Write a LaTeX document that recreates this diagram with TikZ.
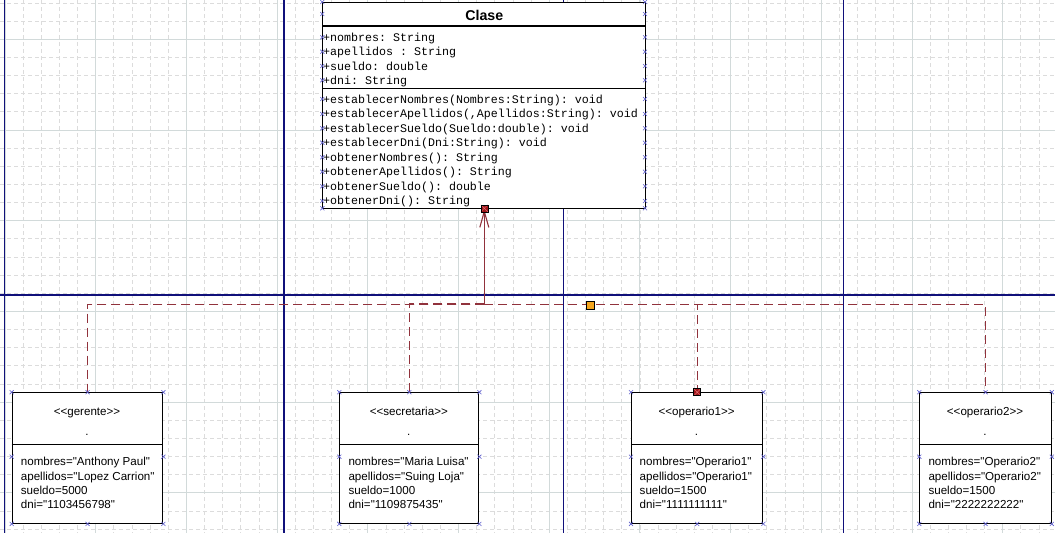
\documentclass[tikz,border=0pt]{standalone}
\usepackage{fontspec}
\newfontfamily\sansf{Liberation Sans}
\newfontfamily\monof{Liberation Mono}
\usetikzlibrary{arrows.meta}
\definecolor{gridminor}{RGB}{220,220,220}
\definecolor{gridmajor}{RGB}{210,218,218}
\definecolor{navyc}{RGB}{16,16,122}
\definecolor{deprel}{RGB}{145,50,60}
\definecolor{handlec}{RGB}{95,95,205}
\definecolor{anchred}{RGB}{160,20,25}
\definecolor{anchx}{RGB}{225,110,110}
\definecolor{anchorange}{RGB}{245,165,30}
\tikzset{
  minorline/.style={gridminor, dash pattern=on 4pt off 3pt, line width=0.8pt},
  majorline/.style={gridmajor, line width=1pt},
  navyline/.style={navyc, line width=1.3pt},
  umlbox/.style={draw=black, fill=white, line width=1.1pt, rectangle, inner sep=0pt, anchor=north west},
  sepline/.style={black, line width=1.1pt},
  monotext/.style={font=\monof\frenchspacing\fontsize{11.65}{14}\selectfont, anchor=base west, inner sep=0pt},
  sanstext/.style={font=\sansf\frenchspacing\fontsize{11.6}{14}\selectfont, anchor=base west, inner sep=0pt},
  stereotext/.style={font=\sansf\fontsize{11.6}{14}\selectfont, anchor=base, inner sep=0pt},
  titletext/.style={font=\sansf\bfseries\fontsize{14.2}{16}\selectfont, inner sep=0pt},
  depline/.style={deprel, line width=1.1pt, dash pattern=on 9pt off 5pt},
  realline/.style={deprel, line width=1.1pt},
  anchsq/.style={draw=black, fill=anchred, minimum size=7pt, inner sep=0pt, line width=0.6pt,
    path picture={\draw[anchx, line width=0.5pt]
      (path picture bounding box.north west) -- (path picture bounding box.south east)
      (path picture bounding box.north east) -- (path picture bounding box.south west);}},
  waysq/.style={draw=black, fill=anchorange, minimum size=8pt, inner sep=0pt, line width=0.6pt},
  hx/.pic={\draw[handlec, line width=0.6pt] (-2,-2) -- (2,2) (-2,2) -- (2,-2);}
}
\begin{document}
\begin{tikzpicture}[x=1pt,y=-1pt]
\useasboundingbox (0,0) rectangle (1055,533);
\fill[white] (0,0) rectangle (1055,533);
% grid
\foreach \i in {1,...,59} {\draw[minorline] ({-13.14+18.14*\i},0) -- ({-13.14+18.14*\i},533);}
\foreach \i in {0,...,29} {\draw[minorline] (0,{3.02+18.14*\i}) -- (1055,{3.02+18.14*\i});}
\foreach \i in {0,...,11} {\draw[majorline] ({5+90.7*\i},0) -- ({5+90.7*\i},533);}
\foreach \i in {0,...,5} {\draw[majorline] (0,{39.3+90.7*\i}) -- (1055,{39.3+90.7*\i});}
% page lines
\foreach \xx in {4.3,284,563.3,843.5} {\draw[navyline] (\xx,0) -- (\xx,533);}
\draw[navyline] (0,295) -- (1055,295);

% class box
\node[umlbox, minimum width=322.7pt, minimum height=206.3pt] (clase) at (322.3,2) {};
\draw[sepline] (322.3,26) -- (645,26);
\draw[sepline] (322.3,88.3) -- (645,88.3);
\node[titletext] (clase-title) at (484.3,15) {Clase};
\node[monotext] (at1) at (323,41.5) {+nombres: String};
\node[monotext] (at2) at (323,55.9) {+apellidos : String};
\node[monotext] (at3) at (323,70.3) {+sueldo: double};
\node[monotext] (at4) at (323,84.7) {+dni: String};
\node[monotext] (m1) at (323,103.3) {+establecerNombres(Nombres:String): void};
\node[monotext] (m2) at (323,117.8) {+establecerApellidos(,Apellidos:String): void};
\node[monotext] (m3) at (323,132.3) {+establecerSueldo(Sueldo:double): void};
\node[monotext] (m4) at (323,146.8) {+establecerDni(Dni:String): void};
\node[monotext] (m5) at (323,161.3) {+obtenerNombres(): String};
\node[monotext] (m6) at (323,175.8) {+obtenerApellidos(): String};
\node[monotext] (m7) at (323,190.3) {+obtenerSueldo(): double};
\node[monotext] (m8) at (323,204.8) {+obtenerDni(): String};

% object boxes
\node[umlbox, minimum width=150.6pt, minimum height=130.6pt] (ger) at (11.7,392.2) {};
\draw[sepline] (11.7,444.3) -- (162.3,444.3);
\node[stereotext] (ger-st) at (87,415.7) {<{}<gerente>{}>};
\node[stereotext] (ger-dot) at (87,435.5) {.};
\node[sanstext] (ger-a1) at (20.7,465.7) {nombres="Anthony Paul"};
\node[sanstext] (ger-a2) at (20.7,480.1) {apellidos="Lopez Carrion"};
\node[sanstext] (ger-a3) at (20.7,494.5) {sueldo=5000};
\node[sanstext] (ger-a4) at (20.7,508.9) {dni="1103456798"};

\node[umlbox, minimum width=139pt, minimum height=130.6pt] (sec) at (339.3,392.2) {};
\draw[sepline] (339.3,444.3) -- (478.3,444.3);
\node[stereotext] (sec-st) at (408.8,415.7) {<{}<secretaria>{}>};
\node[stereotext] (sec-dot) at (408.8,435.5) {.};
\node[sanstext] (sec-a1) at (348.3,465.7) {nombres="Maria Luisa"};
\node[sanstext] (sec-a2) at (348.3,480.1) {apellidos="Suing Loja"};
\node[sanstext] (sec-a3) at (348.3,494.5) {sueldo=1000};
\node[sanstext] (sec-a4) at (348.3,508.9) {dni="1109875435"};

\node[umlbox, minimum width=131.3pt, minimum height=130.6pt] (op1) at (631,392.2) {};
\draw[sepline] (631,444.3) -- (762.3,444.3);
\node[stereotext] (op1-st) at (696.6,415.7) {<{}<operario1>{}>};
\node[stereotext] (op1-dot) at (696.6,435.5) {.};
\node[sanstext] (op1-a1) at (639.5,465.7) {nombres="Operario1"};
\node[sanstext] (op1-a2) at (639.5,480.1) {apellidos="Operario1"};
\node[sanstext] (op1-a3) at (639.5,494.5) {sueldo=1500};
\node[sanstext] (op1-a4) at (639.5,508.9) {dni="1111111111"};

\node[umlbox, minimum width=131.4pt, minimum height=130.6pt] (op2) at (919.3,392.2) {};
\draw[sepline] (919.3,444.3) -- (1050.7,444.3);
\node[stereotext] (op2-st) at (985,415.7) {<{}<operario2>{}>};
\node[stereotext] (op2-dot) at (985,435.5) {.};
\node[sanstext] (op2-a1) at (928.3,465.7) {nombres="Operario2"};
\node[sanstext] (op2-a2) at (928.3,480.1) {apellidos="Operario2"};
\node[sanstext] (op2-a3) at (928.3,494.5) {sueldo=1500};
\node[sanstext] (op2-a4) at (928.3,508.9) {dni="2222222222"};

% connectors (drawn outward from the junction so overlapping dashes stay in phase)
\coordinate (hub) at (484.3,304.3);
\draw[depline] (hub) -| (ger.north);
\draw[depline] (hub) -| (sec.north);
\draw[depline, line width=2pt] (hub) -- (sec.north |- hub);
\draw[depline] (hub) -| (op1.north);
\draw[depline] (hub) -| (op2.north);
\draw[realline, -{Straight Barb[length=16pt,width=9pt]}] (hub) -- (hub |- clase.south);
\node[waysq] (bend) at (590.3,305) {};

% selection handles
\foreach \yy in {2,14,37.3,51.7,66,80.3,99,114,128.3,142.7,157.3,171.7,186.3,201,208.3}
  {\pic at (322.3,\yy) {hx}; \pic at (645,\yy) {hx};}
\foreach \b in {ger,sec,op1,op2} {
  \foreach \a in {north west,north,north east,south west,south,south east} {\pic at (\b.\a) {hx};}
  \pic at (\b.west |- 0,456.7) {hx};
  \pic at (\b.east |- 0,456.7) {hx};
}
\node[anchsq] (clase-anch) at (484.3,208.3) {};
\node[anchsq] (op1-anch) at (op1.north) {};
\end{tikzpicture}
\end{document}
